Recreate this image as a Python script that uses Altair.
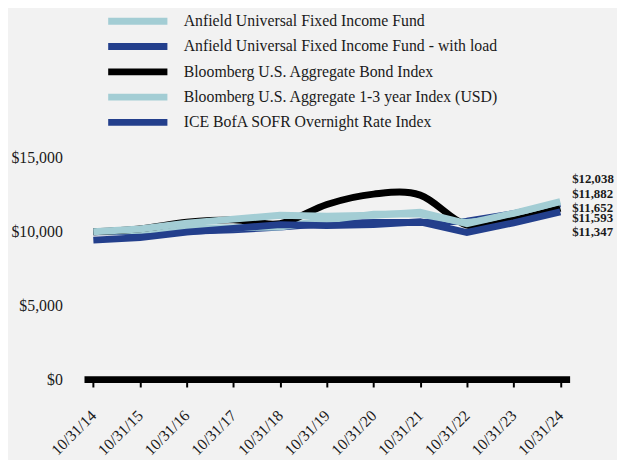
import altair as alt
import pandas as pd

dates = ["10/31/14", "10/31/15", "10/31/16", "10/31/17", "10/31/18", "10/31/19",
         "10/31/20", "10/31/21", "10/31/22", "10/31/23", "10/31/24"]

series_names = [
    "Anfield Universal Fixed Income Fund",
    "Anfield Universal Fixed Income Fund - with load",
    "Bloomberg U.S. Aggregate Bond Index",
    "Bloomberg U.S. Aggregate 1-3 year Index (USD)",
    "ICE BofA SOFR Overnight Rate Index",
]

fund = [10000, 10180, 10580, 10850, 11120, 11050, 11120, 11320, 10550, 11250, 12038]
fund_load = [9425, 9595, 9970, 10225, 10480, 10415, 10480, 10670, 9945, 10600, 11347]
agg = [10000, 10194, 10641, 10800, 10550, 11850, 12550, 12480, 10440, 10800, 11593]
agg13 = [10000, 10090, 10220, 10270, 10320, 10780, 11190, 11200, 10620, 10950, 11652]
sofr = [10000, 10005, 10035, 10125, 10310, 10545, 10620, 10625, 10720, 11220, 11882]

colors = ["#A3CDD4", "#233F8C", "#000000", "#A3CDD4", "#233F8C"]

rows = []
for name, vals in zip(series_names, [fund, fund_load, agg, agg13, sofr]):
    for d, v in zip(dates, vals):
        rows.append({"date": d, "series": name, "value": v})
df = pd.DataFrame(rows)

FONT = "Liberation Serif"
TXT = "#1a1a1a"

x = alt.X(
    "date:O", sort=dates, title=None,
    scale=alt.Scale(type="point", padding=0.2),
    axis=alt.Axis(
        domainWidth=7, domainColor="#000000", tickColor="#000000", tickWidth=2,
        tickSize=8, labelAngle=-45, labelAlign="right", labelBaseline="middle",
        labelPadding=26, labelFont=FONT, labelFontSize=16, labelColor=TXT,
        grid=False,
    ),
)
y = alt.Y(
    "value:Q", title=None,
    scale=alt.Scale(domain=[0, 15000], nice=False),
    axis=alt.Axis(
        domain=False, ticks=False, grid=False, values=[0, 5000, 10000, 15000],
        format="$,.0f", labelPadding=22, labelFont=FONT, labelFontSize=16,
        labelColor=TXT,
    ),
)
color = alt.Color(
    "series:N", sort=series_names,
    scale=alt.Scale(domain=series_names, range=colors),
    legend=alt.Legend(
        title=None, orient="none", legendX=46, legendY=-147,
        symbolType="M -6 0 L 6 0", symbolSize=100, symbolStrokeWidth=7,
        labelFont=FONT, labelFontSize=16, labelColor=TXT, labelLimit=500,
        labelOffset=38, rowPadding=-3.4, padding=0,
    ),
)

base = alt.Chart(df)
layers = []
for i in [4, 3, 2, 1, 0]:
    interp = "cardinal" if i == 2 else "linear"
    layers.append(
        base.transform_filter(alt.datum.series == series_names[i])
        .mark_line(strokeWidth=7, interpolate=interp)
        .encode(x=x, y=y, color=color)
    )

label_dy = {0: -23, 4: -10.5, 3: 1, 2: 10, 1: 20}
for i, dy in label_dy.items():
    layers.append(
        base.transform_filter(
            (alt.datum.series == series_names[i]) & (alt.datum.date == dates[-1])
        )
        .mark_text(align="left", baseline="middle", dx=12, dy=dy, font=FONT,
                   fontSize=13, fontWeight="bold", color=TXT)
        .encode(x=x, y=y, text=alt.Text("value:Q", format="$,.0f"))
    )

chart = (
    alt.layer(*layers)
    .properties(
        width=492, height=224,
        autosize=alt.AutoSizeParams(type="none"),
        padding={"left": 77, "top": 149, "right": 48, "bottom": 79},
        background="#F2F2F2",
    )
    .configure_view(stroke=None)
)

chart.save("out.html", embed_options={"renderer": "svg", "actions": False})
